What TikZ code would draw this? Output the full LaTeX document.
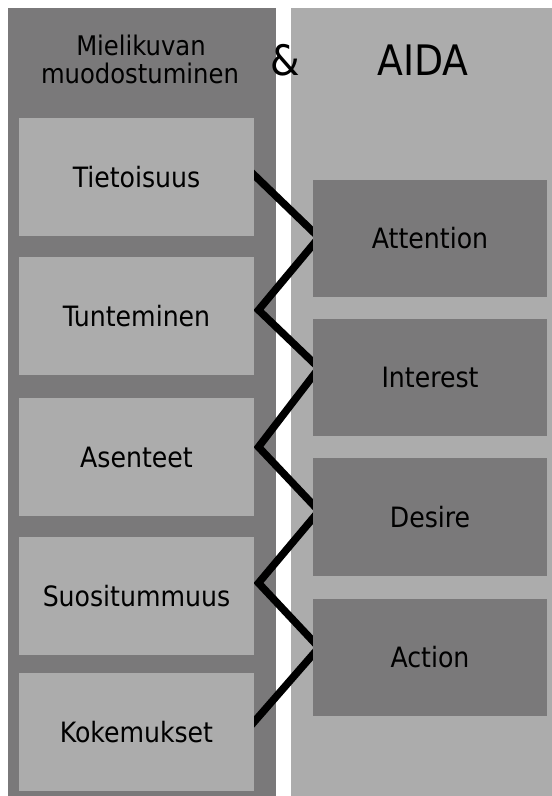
\documentclass[tikz,border=0pt]{standalone}
\usepackage{fontspec}
\setmainfont{DejaVu Sans Condensed}
\definecolor{darkg}{RGB}{122,121,122}
\definecolor{lightg}{RGB}{172,172,172}
\pgfdeclarelayer{bg}
\pgfsetlayers{bg,main}
\begin{document}
\begin{tikzpicture}[x=1pt,y=-1pt,
  panelbox/.style={inner sep=0, outer sep=0, draw=none},
  lbox/.style={fill=lightg, draw=none, inner sep=0, outer sep=0, minimum width=235pt, minimum height=118pt, font=\fontsize{28}{32}\selectfont},
  rbox/.style={fill=darkg, draw=none, inner sep=0, outer sep=0, minimum width=234pt, minimum height=117.5pt, font=\fontsize{28}{32}\selectfont},
  titletext/.style={inner sep=0, anchor=base, font=\fontsize{27}{30}\selectfont},
  bigtext/.style={inner sep=0, anchor=base, font=\fontsize{42}{44}\selectfont},
  zz/.style={line width=7.5pt, line join=miter, black}]
\useasboundingbox (0,0) rectangle (552,796);
% titles
\node[titletext] (title1) at (141,55) {Mielikuvan};
\node[titletext] (title2) at (140,83) {muodostuminen};
\node[bigtext] (amp) at (285.5,75) {\&};
\node[bigtext] (aida) at (423,75) {AIDA};
% left boxes
\node[lbox] (tiet) at (136.5,177) {Tietoisuus};
\node[lbox] (tun) at (136.5,316) {Tunteminen};
\node[lbox] (ase) at (136.5,457) {Asenteet};
\node[lbox] (suo) at (136.5,596) {Suositummuus};
\node[lbox] (kok) at (136.5,732) {Kokemukset};
% right boxes
\node[rbox] (att) at (430,238.5) {Attention};
\node[rbox] (int) at (430,377.5) {Interest};
\node[rbox] (des) at (430,517) {Desire};
\node[rbox] (act) at (430,657.5) {Action};
\begin{pgfonlayer}{bg}
\fill[white] (0,0) rectangle (552,796);
\node[panelbox, fill=darkg, minimum width=268pt, minimum height=788pt] (leftpanel) at (142,402) {};
\node[panelbox, fill=lightg, minimum width=261pt, minimum height=788pt] (rightpanel) at (421.5,402) {};
% zigzag connector
\draw[zz] ([xshift=-4pt,yshift=6pt]tiet.east)
  -- ([xshift=6pt,yshift=1pt]att.west)
  -- ([xshift=4.5pt,yshift=6pt]tun.east)
  -- ([xshift=6pt,yshift=9.5pt]int.west)
  -- ([xshift=4.5pt,yshift=10pt]ase.east)
  -- ([xshift=6pt,yshift=6pt]des.west)
  -- ([xshift=4.5pt,yshift=13pt]suo.east)
  -- ([xshift=6pt,yshift=10pt]act.west)
  -- ([xshift=-4pt,yshift=5.4pt]kok.east);
\end{pgfonlayer}
\end{tikzpicture}
\end{document}
